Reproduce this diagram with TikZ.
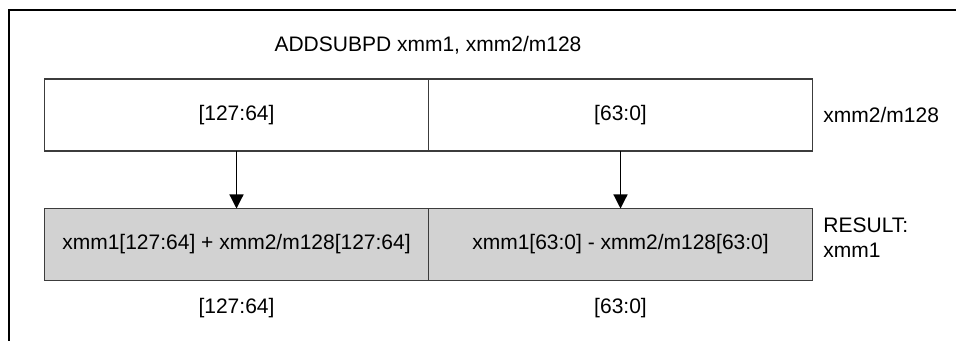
\documentclass[tikz,border=0pt]{standalone}
\usepackage{fontspec}
\setmainfont{Liberation Sans}
\usetikzlibrary{arrows.meta,positioning}
\definecolor{cellgray}{RGB}{210,210,210}
\definecolor{edgegray}{RGB}{60,60,60}

\begin{document}
\begin{tikzpicture}[x=0.5pt,y=-0.5pt,font=\fontsize{10.5}{12.5}\selectfont,
  cell/.style={draw=edgegray,line width=0.6pt,minimum width=192pt,minimum height=36pt,inner sep=0pt,outer sep=0pt},
  result/.style={cell,fill=cellgray},
  lbl/.style={inner sep=0pt}]
  \useasboundingbox (0,0) rectangle (956,341);
  % frame
  \draw[line width=1pt] (9,341) -- (9,10) -- (956,10);
  \node[lbl] (title) at (428,45) {ADDSUBPD xmm1, xmm2/m128};
  % source operand
  \node[cell] (srchi) at (236.5,115) {[127:64]};
  \node[cell] (srclo) at (620.5,115) {[63:0]};
  \node[lbl,anchor=west] (srcname) at (823,115) {xmm2/m128};
  % result
  \node[result] (reshi) at (236.5,244.5) {xmm1[127:64] + xmm2/m128[127:64]};
  \node[result] (reslo) at (620.5,244.5) {xmm1[63:0] - xmm2/m128[63:0]};
  \node[lbl,anchor=west,align=left] (resname) at (823,238) {RESULT:\\xmm1};
  \node[lbl] (bithi) at (236.5,308) {[127:64]};
  \node[lbl] (bitlo) at (620.5,308) {[63:0]};
  \path[-{Triangle[length=7pt,width=7pt]},line width=0.6pt]
  (srchi) edge (reshi)
  (srclo) edge (reslo);
\end{tikzpicture}
\end{document}
